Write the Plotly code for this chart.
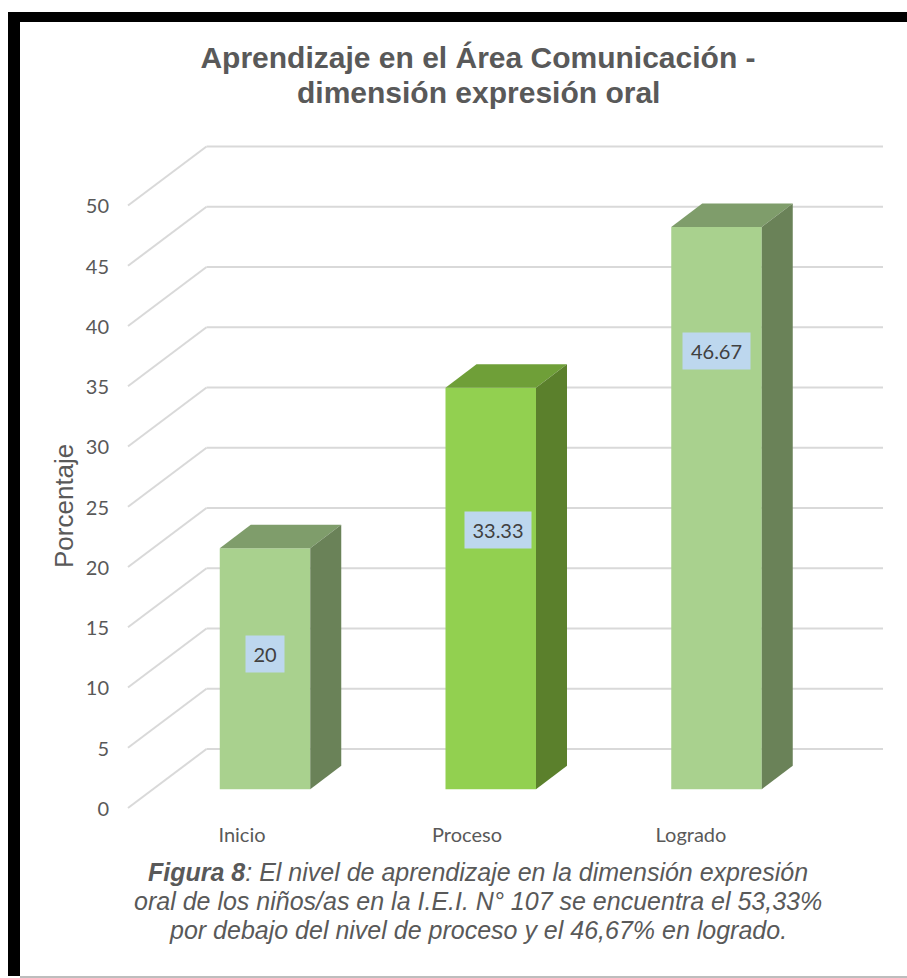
import plotly.graph_objects as go

categories = ["Inicio", "Proceso", "Logrado"]
values = [20, 33.33, 46.67]
value_labels = ["20", "33.33", "46.67"]
y_ticks = [0, 5, 10, 15, 20, 25, 30, 35, 40, 45, 50]

TITLE_LINES = ["Aprendizaje en el Área Comunicación -", "dimensión expresión oral"]
CAPTION_LINES = ["<b>Figura 8</b>: El nivel de aprendizaje en la dimensión expresión",
                 "oral de los niños/as en la I.E.I. N° 107 se encuentra el 53,33%",
                 "por debajo del nivel de proceso y el 46,67% en logrado."]

front_colors = ["#a9d18e", "#92d050", "#a9d18e"]
top_colors = ["#7f9d6b", "#6f9f38", "#7f9d6b"]
side_colors = ["#6a8258", "#5b802c", "#6a8258"]

W, H = 907, 978
L, B = 110, 821       # plot area in pixels
PX_X, X0 = 225.75, 265.0
PX_Y, Y0 = 12.05, 789.3

def xv(px): return (px - X0) / PX_X
def yv(py): return (Y0 - py) / PX_Y
def xp(px): return (px - L) / (W - L)
def yp(py): return (B - py) / B

BAR_W = 90.5 / PX_X
DX, DY = 31 / PX_X, 23.5 / PX_Y
TICK_SHIFT = 19.5 / PX_Y    # front-plane axis labels sit lower than the bar plane
GRID_BACK = 40.3 / PX_Y
GRID_FRONT = 18.7 / PX_Y
label_x = [0, 0.031, 0]
label_y = [11.22, 21.5, 36.36]
label_w = [38, 66, 67]

fig = go.Figure()

fig.add_trace(go.Bar(x=list(range(3)), y=values, width=BAR_W,
                     marker=dict(color=front_colors, line=dict(width=0)),
                     hoverinfo="skip", showlegend=False))

for i, v in enumerate(values):
    l, r = i - BAR_W / 2, i + BAR_W / 2
    fig.add_trace(go.Scatter(x=[l, r, r + DX, l + DX, l], y=[v, v, v + DY, v + DY, v],
                             mode="lines", fill="toself", fillcolor=top_colors[i],
                             line=dict(width=0), hoverinfo="skip", showlegend=False))
    fig.add_trace(go.Scatter(x=[r, r + DX, r + DX, r, r], y=[0, DY, v + DY, v, 0],
                             mode="lines", fill="toself", fillcolor=side_colors[i],
                             line=dict(width=0), hoverinfo="skip", showlegend=False))

shapes = []
grid = dict(color="#d9d9d9", width=2)
for t in y_ticks:
    xl, xc, xr = xv(128), xv(206.5), xv(883)
    shapes.append(dict(type="line", layer="below", xref="x", yref="y", x0=xl, x1=xc,
                       y0=t - GRID_FRONT, y1=t + GRID_BACK, line=grid))
    shapes.append(dict(type="line", layer="below", xref="x", yref="y", x0=xc, x1=xr,
                       y0=t + GRID_BACK, y1=t + GRID_BACK, line=grid))

# page frame
shapes += [
    dict(type="rect", layer="below", xref="paper", yref="paper", x0=xp(8), x1=xp(20),
         y0=yp(976), y1=yp(12), fillcolor="black", line=dict(width=0)),
    dict(type="rect", layer="below", xref="paper", yref="paper", x0=xp(8), x1=xp(W),
         y0=yp(22), y1=yp(12), fillcolor="black", line=dict(width=0)),
    dict(type="rect", layer="below", xref="paper", yref="paper", x0=xp(20), x1=xp(W),
         y0=yp(H), y1=yp(976), fillcolor="#bdbdbd", line=dict(width=0)),
]

annotations = []
for i, lab in enumerate(value_labels):
    annotations.append(dict(x=i + label_x[i], y=label_y[i], xref="x", yref="y", text=lab,
                            showarrow=False, bgcolor="#bdd7ee", borderpad=0,
                            width=label_w[i], height=36, align="center", valign="middle",
                            font=dict(family="Lato", size=20, color="#404040")))
annotations.append(dict(x=xp(64), y=yp(506), xref="paper", yref="paper", text="Porcentaje",
                        textangle=-90, showarrow=False, xanchor="center", yanchor="middle",
                        font=dict(family="Liberation Sans", size=26, color="#595959")))
annotations.append(dict(x=xp(478), y=yp(92), xref="paper", yref="paper", text=TITLE_LINES[1],
                        showarrow=False, xanchor="center", yanchor="middle",
                        font=dict(family="Liberation Sans", size=30, color="#595959", weight="bold")))
for line, py in zip(CAPTION_LINES, [872, 901, 930]):
    annotations.append(dict(x=xp(478), y=yp(py), xref="paper", yref="paper", text="<i>" + line + "</i>",
                            showarrow=False, xanchor="center", yanchor="middle", align="center",
                            font=dict(family="Liberation Sans", size=25, color="#595959")))

fig.update_layout(
    width=W, height=H, autosize=False,
    margin=dict(l=L, r=0, t=0, b=H - B, pad=0),
    paper_bgcolor="white", plot_bgcolor="rgba(0,0,0,0)",
    title=dict(text=TITLE_LINES[0], x=478 / W, xanchor="center", y=1 - 57 / H, yanchor="middle",
               xref="container", yref="container",
               font=dict(family="Liberation Sans", size=30, color="#595959", weight="bold")),
    xaxis=dict(range=[xv(L), xv(W)], showgrid=False, zeroline=False, showline=False, ticks="",
               tickmode="array", tickvals=[xv(242), xv(467), xv(691)], ticktext=categories,
               tickfont=dict(family="Lato", size=20, color="#595959")),
    yaxis=dict(range=[yv(B), yv(0)], showgrid=False, zeroline=False, showline=False, ticks="",
               tickmode="array", tickvals=[t - TICK_SHIFT for t in y_ticks],
               ticktext=[str(t) for t in y_ticks],
               tickfont=dict(family="Lato", size=20, color="#595959")),
    shapes=shapes, annotations=annotations,
)

fig.write_html("out.html", config={"displayModeBar": False},
               post_script="document.body.style.margin='0';")
